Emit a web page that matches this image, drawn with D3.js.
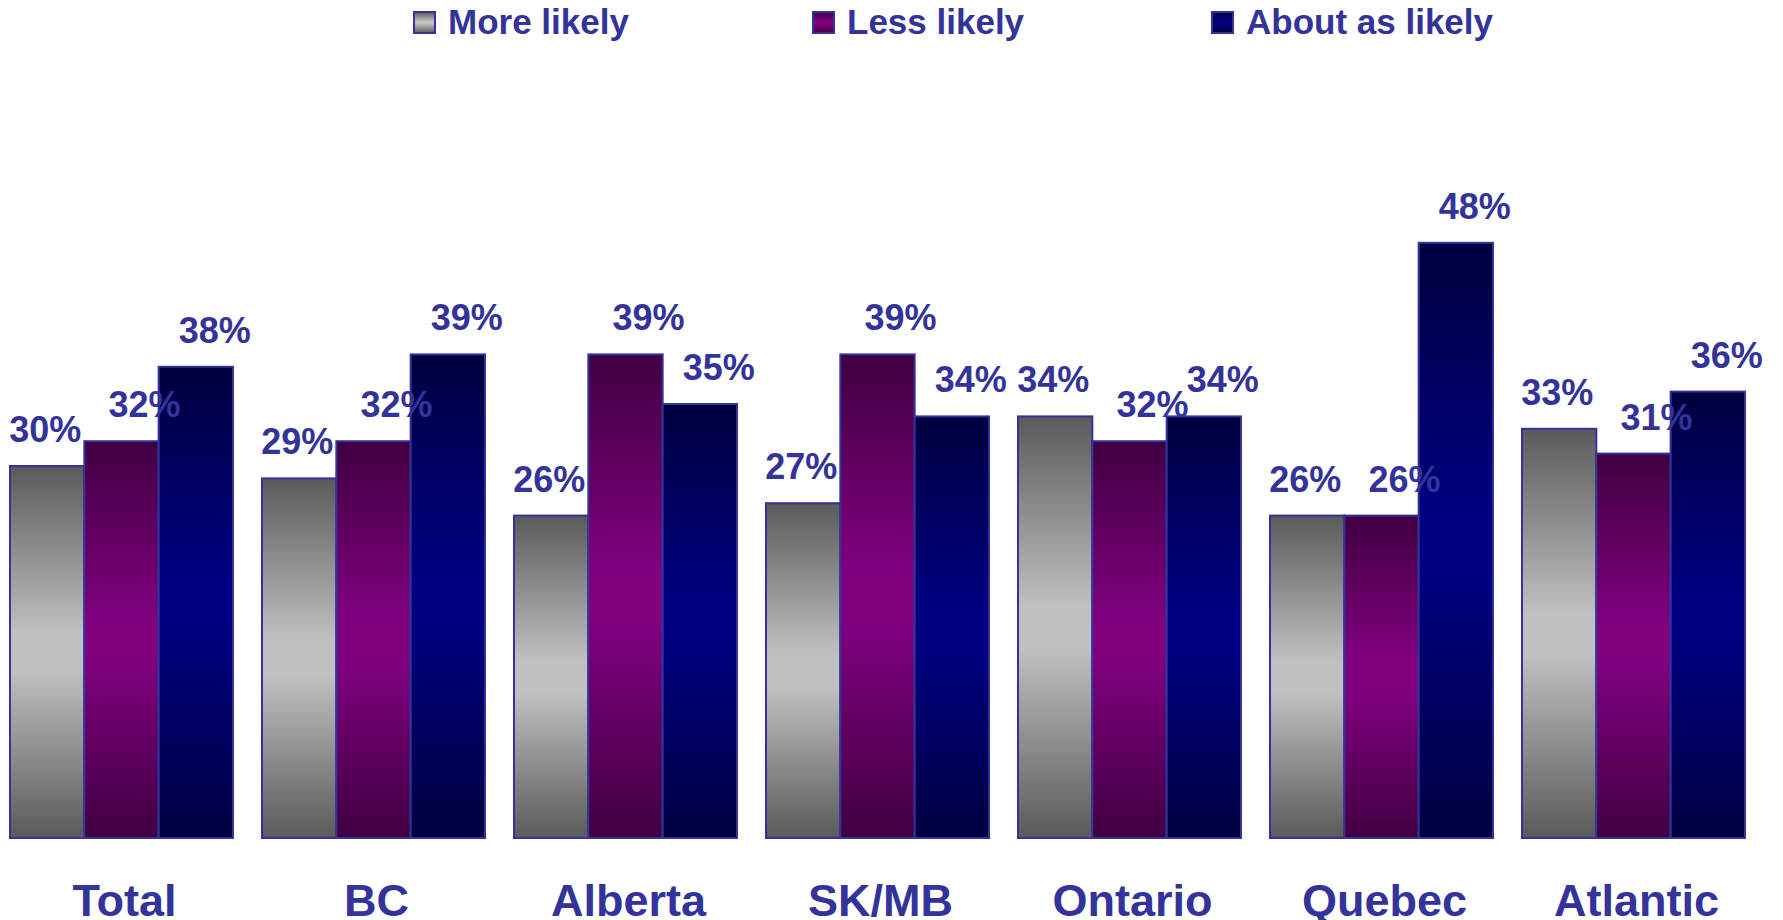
<!DOCTYPE html>
<html>
<head>
<meta charset="utf-8">
<script src="https://cdn.jsdelivr.net/npm/d3@7"></script>
<style>
  html, body { margin: 0; padding: 0; background: #ffffff; overflow: hidden; }
  svg { display: block; font-family: "Liberation Sans", Arial, sans-serif; font-weight: bold; }
</style>
</head>
<body>
<svg id="chart" width="1783" height="920"></svg>
<script>
// ---- Data ----
const categories = ["Total", "BC", "Alberta", "SK/MB", "Ontario", "Quebec", "Atlantic"];
const seriesNames = ["More likely", "Less likely", "About as likely"];
const moreLikely   = [30, 29, 26, 27, 34, 26, 33];
const lessLikely   = [32, 32, 39, 39, 32, 26, 31];
const aboutAsLikely = [38, 39, 35, 34, 34, 48, 36];
const seriesValues = [moreLikely, lessLikely, aboutAsLikely];

// ---- Styles ----
const textColor = "#333399";
const strokeColor = "#333399";
const gradStops = [
  { edge: "#5a5a5a", mid: "#c0c0c0" },
  { edge: "#400040", mid: "#800080" },
  { edge: "#000040", mid: "#000080" }
];
const labelDx = [-2, 23, 19];

const svg = d3.select("#chart");
const defs = svg.append("defs");
gradStops.forEach((g, i) => {
  const lg = defs.append("linearGradient")
    .attr("id", "grad" + i)
    .attr("x1", 0).attr("y1", 0).attr("x2", 0).attr("y2", 1);
  lg.append("stop").attr("offset", "0%").attr("stop-color", g.edge);
  lg.append("stop").attr("offset", "45%").attr("stop-color", g.mid);
  lg.append("stop").attr("offset", "55%").attr("stop-color", g.mid);
  lg.append("stop").attr("offset", "100%").attr("stop-color", g.edge);
});

// ---- Scales ----
const x0 = d3.scaleBand()
  .domain(categories)
  .range([10, 1745])
  .paddingInner(29 / 252)
  .paddingOuter(0);
const x1 = d3.scaleBand()
  .domain(d3.range(seriesNames.length))
  .range([0, x0.bandwidth()])
  .padding(0);
const y = d3.scaleLinear().domain([0, 50]).range([838, 218]);

// ---- Bars ----
const groups = svg.append("g").selectAll("g")
  .data(categories)
  .join("g")
  .attr("transform", d => `translate(${x0(d)},0)`);

groups.selectAll("rect")
  .data((d, ci) => seriesValues.map((vals, si) => ({ si, v: vals[ci] })))
  .join("rect")
  .attr("x", d => x1(d.si))
  .attr("y", d => y(d.v))
  .attr("width", x1.bandwidth())
  .attr("height", d => y(0) - y(d.v))
  .attr("fill", d => `url(#grad${d.si})`)
  .attr("stroke", strokeColor)
  .attr("stroke-width", 2);

// ---- Value labels ----
const labelLayer = svg.append("g");
categories.forEach((c, ci) => {
  seriesValues.forEach((vals, si) => {
    labelLayer.append("text")
      .attr("x", x0(c) + x1(si) + x1.bandwidth() / 2 + labelDx[si])
      .attr("y", y(vals[ci]) - 24)
      .attr("text-anchor", "middle")
      .attr("fill", textColor)
      .attr("font-size", 36)
      .text(vals[ci] + "%");
  });
});

// ---- Category axis labels ----
const xAxis = d3.axisBottom(x0).tickSize(0).tickPadding(0);
const axisG = svg.append("g")
  .attr("transform", `translate(3,916)`)
  .call(xAxis);
axisG.select(".domain").remove();
axisG.selectAll("text")
  .attr("dy", 0)
  .attr("y", 0)
  .attr("fill", textColor)
  .attr("font-size", 45)
  .attr("font-weight", "bold")
  .attr("font-family", "'Liberation Sans', Arial, sans-serif");

// ---- Legend ----
const legendX = d3.scalePoint().domain(d3.range(seriesNames.length)).range([414, 1212]);
const legend = svg.append("g").selectAll("g")
  .data(seriesNames)
  .join("g")
  .attr("transform", (d, i) => `translate(${legendX(i)},12)`);
legend.append("rect")
  .attr("width", 21).attr("height", 21)
  .attr("fill", (d, i) => `url(#grad${i})`)
  .attr("stroke", strokeColor)
  .attr("stroke-width", 2);
legend.append("text")
  .attr("x", 34)
  .attr("y", 22)
  .attr("fill", textColor)
  .attr("font-size", 35)
  .text(d => d);
</script>
</body>
</html>
